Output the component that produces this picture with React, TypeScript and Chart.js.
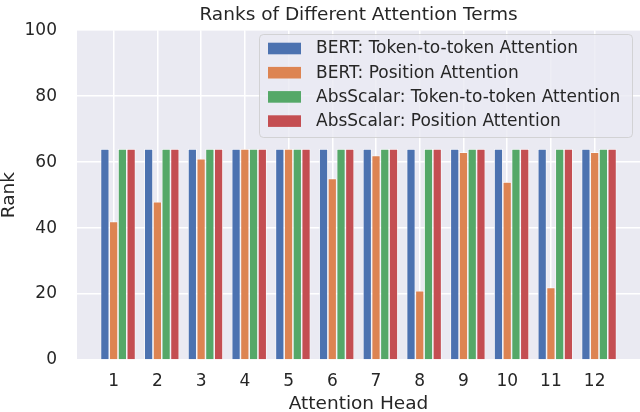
import React, { useEffect, useRef } from "react";
import { Chart, registerables } from "chart.js";

Chart.register(...registerables);

const heads = [1, 2, 3, 4, 5, 6, 7, 8, 9, 10, 11, 12];
const bertToken = [64, 64, 64, 64, 64, 64, 64, 64, 64, 64, 64, 64];
const bertPosition = [42, 48, 61, 64, 64, 55, 62, 21, 63, 54, 22, 63];
const absToken = [64, 64, 64, 64, 64, 64, 64, 64, 64, 64, 64, 64];
const absPosition = [64, 64, 64, 64, 64, 64, 64, 64, 64, 64, 64, 64];
const seriesLabels = [
  "BERT: Token-to-token Attention",
  "BERT: Position Attention",
  "AbsScalar: Token-to-token Attention",
  "AbsScalar: Position Attention",
];
const seriesColors = ["#4C72B0", "#DD8452", "#55A868", "#C44E52"];
const yTicks = [0, 20, 40, 60, 80, 100];

const FONT = "'DejaVu Sans', sans-serif";
const TEXT = "#262626";

const bgPlugin = {
  id: "axesBg",
  beforeDraw(chart: any) {
    const { ctx, chartArea } = chart;
    const { left, top, right, bottom } = chartArea;
    ctx.save();
    ctx.fillStyle = "#EAEAF2";
    ctx.fillRect(left, top, right - left, bottom - top);
    ctx.restore();
  },
};

const legendPlugin = {
  id: "innerLegend",
  afterDatasetsDraw(chart: any) {
    const { ctx } = chart;
    const x0 = 259.5, y0 = 34.5, w = 373, h = 103, r = 4;
    ctx.save();
    ctx.beginPath();
    ctx.moveTo(x0 + r, y0);
    ctx.lineTo(x0 + w - r, y0);
    ctx.arcTo(x0 + w, y0, x0 + w, y0 + r, r);
    ctx.lineTo(x0 + w, y0 + h - r);
    ctx.arcTo(x0 + w, y0 + h, x0 + w - r, y0 + h, r);
    ctx.lineTo(x0 + r, y0 + h);
    ctx.arcTo(x0, y0 + h, x0, y0 + h - r, r);
    ctx.lineTo(x0, y0 + r);
    ctx.arcTo(x0, y0, x0 + r, y0, r);
    ctx.closePath();
    ctx.fillStyle = "rgba(234,234,242,0.8)";
    ctx.fill();
    ctx.strokeStyle = "rgba(204,204,204,0.8)";
    ctx.lineWidth = 1;
    ctx.stroke();
    ctx.font = `17px ${FONT}`;
    ctx.textBaseline = "middle";
    ctx.textAlign = "left";
    chart.data.datasets.forEach((ds: any, i: number) => {
      const cy = 48.5 + i * 24.2;
      ctx.fillStyle = ds.backgroundColor;
      ctx.fillRect(268, cy - 5.8, 33, 11.6);
      ctx.fillStyle = TEXT;
      ctx.fillText(ds.label, 316, cy + 0.5);
    });
    ctx.restore();
  },
};

export default function App() {
  const ref = useRef<HTMLCanvasElement | null>(null);

  useEffect(() => {
    if (!ref.current) return;
    const series = [bertToken, bertPosition, absToken, absPosition];
    const chart = new Chart(ref.current, {
      type: "bar",
      data: {
        datasets: series.map((vals, i) => ({
          label: seriesLabels[i],
          data: heads.map((h, j) => ({ x: h, y: vals[j] })),
          backgroundColor: seriesColors[i],
          borderColor: "#ffffff",
          borderWidth: 0.75,
          categoryPercentage: 0.8,
          barPercentage: 1.0,
          xAxisID: "x",
          yAxisID: "y",
        })),
      },
      options: {
        responsive: false,
        animation: false,
        layout: { padding: 0 },
        plugins: {
          legend: { display: false },
          tooltip: { enabled: false },
          title: {
            display: true,
            text: "Ranks of Different Attention Terms",
            fullSize: false,
            color: TEXT,
            font: { family: FONT, size: 18.5, weight: "normal", lineHeight: 1.2 },
            padding: { top: 1, bottom: 3.5 },
          },
        },
        scales: {
          x: {
            type: "linear",
            display: false,
            min: 0.062,
            max: 12.937,
            offset: false,
            grid: { offset: false },
          },
          x2: {
            type: "linear",
            position: "bottom",
            min: 0.162,
            max: 13.037,
            offset: false,
            afterBuildTicks: (s: any) => {
              s.ticks = heads.map((v) => ({ value: v }));
            },
            afterFit: (s: any) => {
              s.height = 52;
            },
            grid: { color: "#ffffff", lineWidth: 1.5, drawTicks: false, offset: false },
            border: { display: false },
            ticks: {
              padding: 11,
              color: TEXT,
              font: { family: FONT, size: 17 },
              maxRotation: 0,
              autoSkip: false,
            },
            title: {
              display: true,
              text: "Attention Head",
              color: TEXT,
              font: { family: FONT, size: 18.5, lineHeight: 0.8 },
              padding: 0,
            },
          },
          y: {
            type: "linear",
            min: 0,
            max: 100,
            afterBuildTicks: (s: any) => {
              s.ticks = yTicks.map((v) => ({ value: v }));
            },
            afterFit: (s: any) => {
              s.width = 77;
            },
            grid: { color: "#ffffff", lineWidth: 1.5, drawTicks: false },
            border: { display: false },
            ticks: {
              padding: 20,
              color: TEXT,
              font: { family: FONT, size: 17 },
            },
            title: {
              display: true,
              text: "Rank",
              color: TEXT,
              font: { family: FONT, size: 18.5, lineHeight: 1.0 },
              padding: 0,
            },
          },
        },
      } as any,
      plugins: [bgPlugin, legendPlugin],
    });
    return () => chart.destroy();
  }, []);

  return (
    <div style={{ position: "fixed", left: 0, top: 0, width: 640, height: 412 }}>
      <canvas ref={ref} width={640} height={412} style={{ display: "block", width: 640, height: 412 }} />
    </div>
  );
}
